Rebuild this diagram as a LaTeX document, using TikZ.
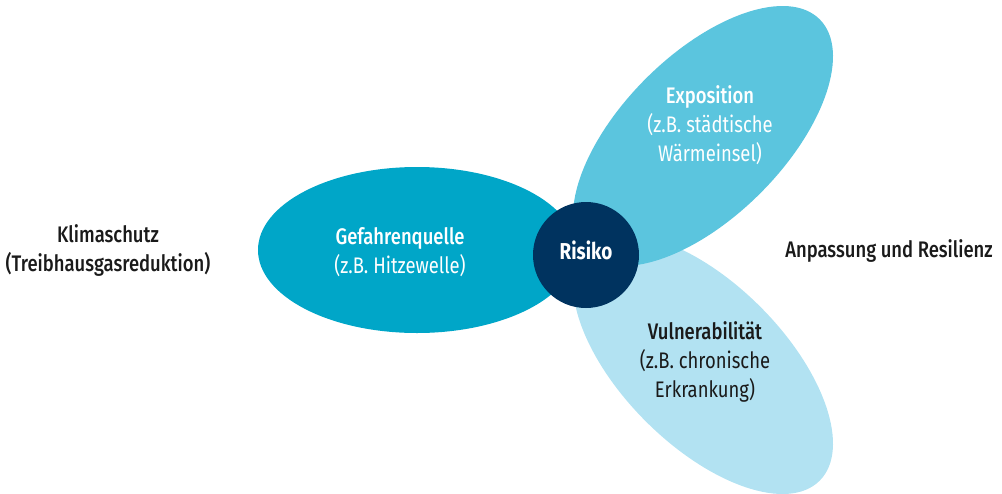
\documentclass[tikz,border=0pt]{standalone}
\usepackage{fontspec}
\usetikzlibrary{shapes.geometric}
\setmainfont{Fira Sans}[FakeStretch=0.82, BoldFont={Fira Sans Medium}, BoldFeatures={FakeStretch=0.82}]
\newfontfamily\riskfont{Fira Sans}[FakeStretch=0.82]
\definecolor{gefahr}{HTML}{00A6C8}
\definecolor{expo}{HTML}{5BC5DE}
\definecolor{vuln}{HTML}{B2E2F2}
\definecolor{risk}{HTML}{00335F}
\definecolor{ink}{HTML}{1A1A1A}
\begin{document}
\begin{tikzpicture}[x=1pt,y=-1pt,
  blob/.style={shape=ellipse, inner sep=0pt, draw=none},
  label/.style={align=center, inner sep=0pt, font=\fontsize{22.5}{29}\selectfont}]
\useasboundingbox (0,0) rectangle (1002,493);
\node[blob, fill=vuln, minimum width=330pt, minimum height=162pt, rotate=-45] (vul) at (703,364) {};
\node[blob, fill=expo, minimum width=330pt, minimum height=162pt, rotate=45] (exp) at (703,136) {};
\node[blob, fill=gefahr, minimum width=318pt, minimum height=166pt] (gef) at (417,250) {};
\node[circle, fill=risk, minimum size=106pt, inner sep=0pt] (risk) at (586,255) {};
\node[label, text=white, font=\riskfont\bfseries\fontsize{23}{29}\selectfont] (risktxt) at (586,250) {Risiko};
\node[label, text=white] (geftxt) at (400,252) {{\bfseries Gefahrenquelle}\\(z.B. Hitzewelle)};
\node[label, text=white] (exptxt) at (710,125) {{\bfseries Exposition}\\(z.B. städtische\\Wärmeinsel)};
\node[label, text=ink] (vultxt) at (705,362) {{\bfseries Vulnerabilität}\\(z.B. chronische\\Erkrankung)};
\node[label, text=ink] (klima) at (108,250) {{\bfseries Klimaschutz}\\{\bfseries(Treibhausgasreduktion)}};
\node[label, text=ink] (anp) at (889,251) {{\bfseries Anpassung und Resilienz}};
\end{tikzpicture}
\end{document}
